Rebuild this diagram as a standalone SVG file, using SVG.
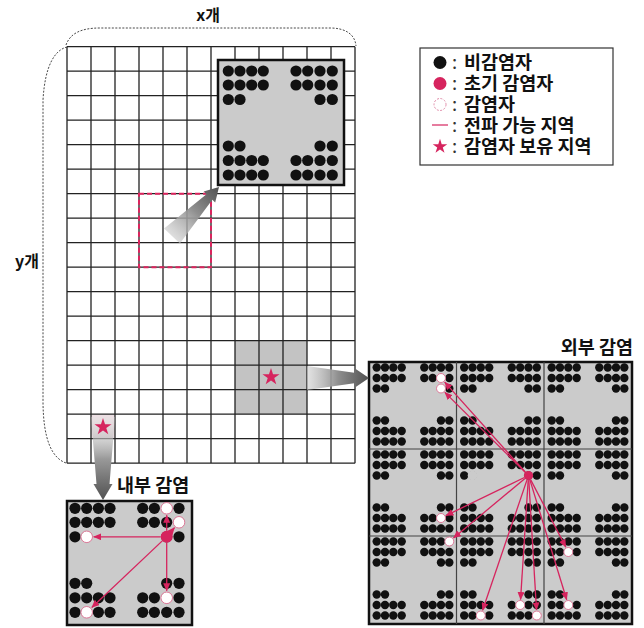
<svg xmlns="http://www.w3.org/2000/svg" xmlns:xlink="http://www.w3.org/1999/xlink" width="644" height="628" viewBox="0 0 644 628">
<style>
.k{fill:#111}
.w{fill:#fff;stroke:#e07a9a;stroke-width:1}
.r{fill:#d6245e}
.ln{stroke:#d6245e;stroke-width:1.3;fill:none;marker-end:url(#ah)}
.t{font-family:"Noto Sans CJK KR","Noto Sans",sans-serif;font-weight:bold;fill:#111}
.lg{font-size:18.5px}
.cl{font-weight:normal;fill:#333}
.box{fill:#cbcbcb;stroke:#111;stroke-width:2.5}
.brace{fill:none;stroke:#333;stroke-width:0.9;stroke-dasharray:2 1.5}
</style>
<defs>
<marker id="ah" markerWidth="8" markerHeight="7" refX="7.5" refY="3.5" orient="auto" markerUnits="userSpaceOnUse"><path d="M0,0 L8,3.5 L0,7 Z" fill="#d6245e"/></marker>
<path id="star" d="M0,-9 L2.02,-2.78 L8.56,-2.78 L3.27,1.06 L5.29,7.28 L0,3.44 L-5.29,7.28 L-3.27,1.06 L-8.56,-2.78 L-2.02,-2.78 Z" fill="#d6245e"/>
<linearGradient id="g1" gradientUnits="userSpaceOnUse" x1="172" y1="236" x2="219" y2="187"><stop offset="0" stop-color="#c8c8c8" stop-opacity="0.6"/><stop offset="0.5" stop-color="#8f8f8f"/><stop offset="1" stop-color="#505050"/></linearGradient>
<linearGradient id="g2" gradientUnits="userSpaceOnUse" x1="307" y1="378" x2="369" y2="378"><stop offset="0" stop-color="#d0d0d0" stop-opacity="0.6"/><stop offset="0.5" stop-color="#8f8f8f"/><stop offset="1" stop-color="#505050"/></linearGradient>
<linearGradient id="g3" gradientUnits="userSpaceOnUse" x1="103" y1="418" x2="103" y2="500"><stop offset="0" stop-color="#e0e0e0" stop-opacity="0.3"/><stop offset="0.5" stop-color="#999"/><stop offset="1" stop-color="#505050"/></linearGradient>
<g id="lp" class="k">
<circle cx="10.3" cy="11" r="5.6"/><circle cx="22" cy="11" r="5.6"/><circle cx="33.7" cy="11" r="5.6"/><circle cx="45.3" cy="11" r="5.6"/><circle cx="78" cy="11" r="5.6"/><circle cx="89.7" cy="11" r="5.6"/><circle cx="102" cy="11" r="5.6"/><circle cx="114.3" cy="11" r="5.6"/>
<circle cx="10.3" cy="25" r="5.6"/><circle cx="22" cy="25" r="5.6"/><circle cx="33.7" cy="25" r="5.6"/><circle cx="45.3" cy="25" r="5.6"/><circle cx="78" cy="25" r="5.6"/><circle cx="89.7" cy="25" r="5.6"/><circle cx="102" cy="25" r="5.6"/><circle cx="114.3" cy="25" r="5.6"/>
<circle cx="10.3" cy="39.5" r="5.6"/><circle cx="22" cy="39.5" r="5.6"/><circle cx="102" cy="39.5" r="5.6"/><circle cx="114.3" cy="39.5" r="5.6"/>
<circle cx="10.3" cy="86" r="5.6"/><circle cx="22" cy="86" r="5.6"/><circle cx="102" cy="86" r="5.6"/><circle cx="114.3" cy="86" r="5.6"/>
<circle cx="10.3" cy="100.5" r="5.6"/><circle cx="22" cy="100.5" r="5.6"/><circle cx="33.7" cy="100.5" r="5.6"/><circle cx="45.3" cy="100.5" r="5.6"/><circle cx="78" cy="100.5" r="5.6"/><circle cx="89.7" cy="100.5" r="5.6"/><circle cx="102" cy="100.5" r="5.6"/><circle cx="114.3" cy="100.5" r="5.6"/>
<circle cx="10.3" cy="115" r="5.6"/><circle cx="22" cy="115" r="5.6"/><circle cx="33.7" cy="115" r="5.6"/><circle cx="45.3" cy="115" r="5.6"/><circle cx="78" cy="115" r="5.6"/><circle cx="89.7" cy="115" r="5.6"/><circle cx="102" cy="115" r="5.6"/><circle cx="114.3" cy="115" r="5.6"/>
</g>
<g id="sp" class="k">
<circle cx="7.7" cy="5.5" r="4.2"/><circle cx="16" cy="5.5" r="4.2"/><circle cx="24.3" cy="5.5" r="4.2"/><circle cx="32.7" cy="5.5" r="4.2"/><circle cx="55.3" cy="5.5" r="4.2"/><circle cx="63.7" cy="5.5" r="4.2"/><circle cx="72" cy="5.5" r="4.2"/><circle cx="80.3" cy="5.5" r="4.2"/>
<circle cx="7.7" cy="16" r="4.2"/><circle cx="16" cy="16" r="4.2"/><circle cx="24.3" cy="16" r="4.2"/><circle cx="32.7" cy="16" r="4.2"/><circle cx="55.3" cy="16" r="4.2"/><circle cx="63.7" cy="16" r="4.2"/><circle cx="72" cy="16" r="4.2"/><circle cx="80.3" cy="16" r="4.2"/>
<circle cx="7.7" cy="26.5" r="4.2"/><circle cx="16" cy="26.5" r="4.2"/><circle cx="72" cy="26.5" r="4.2"/><circle cx="80.3" cy="26.5" r="4.2"/>
<circle cx="7.7" cy="58.5" r="4.2"/><circle cx="16" cy="58.5" r="4.2"/><circle cx="72" cy="58.5" r="4.2"/><circle cx="80.3" cy="58.5" r="4.2"/>
<circle cx="7.7" cy="69" r="4.2"/><circle cx="16" cy="69" r="4.2"/><circle cx="24.3" cy="69" r="4.2"/><circle cx="32.7" cy="69" r="4.2"/><circle cx="55.3" cy="69" r="4.2"/><circle cx="63.7" cy="69" r="4.2"/><circle cx="72" cy="69" r="4.2"/><circle cx="80.3" cy="69" r="4.2"/>
<circle cx="7.7" cy="79.5" r="4.2"/><circle cx="16" cy="79.5" r="4.2"/><circle cx="24.3" cy="79.5" r="4.2"/><circle cx="32.7" cy="79.5" r="4.2"/><circle cx="55.3" cy="79.5" r="4.2"/><circle cx="63.7" cy="79.5" r="4.2"/><circle cx="72" cy="79.5" r="4.2"/><circle cx="80.3" cy="79.5" r="4.2"/>
</g>
</defs>
<rect width="644" height="628" fill="#fff"/>
<g id="grid">
<rect x="235" y="340.7" width="72" height="73.5" fill="#b8b8b8" opacity="0.85"/>
<rect x="91" y="414.2" width="24" height="24.5" fill="#ecdfe3"/>
<path d="M67 46.7V463.2M91 46.7V463.2M115 46.7V463.2M139 46.7V463.2M163 46.7V463.2M187 46.7V463.2M211 46.7V463.2M235 46.7V463.2M259 46.7V463.2M283 46.7V463.2M307 46.7V463.2M331 46.7V463.2M355 46.7V463.2M67 46.7H355M67 71.2H355M67 95.7H355M67 120.2H355M67 144.7H355M67 169.2H355M67 193.7H355M67 218.2H355M67 242.7H355M67 267.2H355M67 291.7H355M67 316.2H355M67 340.7H355M67 365.2H355M67 389.7H355M67 414.2H355M67 438.7H355M67 463.2H355" stroke="#222" stroke-width="1.3" fill="none"/>
<rect x="139" y="193.7" width="72" height="73.5" fill="none" stroke="#dc245e" stroke-width="2" stroke-dasharray="5 3"/>
</g>
<g id="braces">
<path class="brace" d="M66,45 C70,34 80,28 100,28 L330,28 C345,28 355,34 356,46"/>
<path class="brace" d="M67,47 C55,50 45,65 43,100 L43,400 C43,440 52,458 66,463"/>
<text class="t" x="208" y="21" font-size="16" text-anchor="middle">x개</text>
<text class="t" x="15" y="267" font-size="16">y개</text>
</g>
<g id="inset-top">
<rect class="box" x="218" y="60" width="126" height="125"/>
<use xlink:href="#lp" href="#lp" transform="translate(218,60)"/>
</g>
<g id="inset-internal">
<text class="t" x="117" y="492" font-size="18.5">내부 감염</text>
<rect class="box" x="67" y="501" width="125" height="124"/>
<use xlink:href="#lp" href="#lp" transform="translate(64.7,497.3)"/>
<circle class="w" cx="166.7" cy="508.3" r="5.8"/>
<circle class="w" cx="179" cy="522.3" r="5.8"/>
<circle class="w" cx="86.7" cy="536.8" r="5.8"/>
<circle class="w" cx="86.7" cy="612.3" r="5.8"/>
<circle class="w" cx="166.7" cy="597.8" r="5.8"/>
<circle class="r" cx="166.7" cy="536.8" r="6"/>
</g>
<g id="inset-external">
<text class="t" x="633" y="354" font-size="18.5" text-anchor="end">외부 감염</text>
<rect class="box" x="369" y="362" width="263" height="262"/>
<use xlink:href="#sp" href="#sp" transform="translate(369,362)"/>
<use xlink:href="#sp" href="#sp" transform="translate(456.5,362)"/>
<use xlink:href="#sp" href="#sp" transform="translate(544,362)"/>
<use xlink:href="#sp" href="#sp" transform="translate(369,449)"/>
<use xlink:href="#sp" href="#sp" transform="translate(456.5,449)"/>
<use xlink:href="#sp" href="#sp" transform="translate(544,449)"/>
<use xlink:href="#sp" href="#sp" transform="translate(369,536)"/>
<use xlink:href="#sp" href="#sp" transform="translate(456.5,536)"/>
<use xlink:href="#sp" href="#sp" transform="translate(544,536)"/>
<circle cx="472.5" cy="475.5" r="4.8" fill="#cbcbcb"/>
<path d="M456.5 362V624M544 362V624M369 449H632M369 536H632" stroke="#444" stroke-width="1.2" fill="none"/>
<circle class="w" cx="441" cy="378" r="4.5"/>
<circle class="w" cx="441" cy="388.5" r="4.5"/>
<circle class="w" cx="441" cy="518" r="4.5"/>
<circle class="w" cx="449.3" cy="541.5" r="4.5"/>
<circle class="w" cx="480.8" cy="615.5" r="4.5"/>
<circle class="w" cx="520.2" cy="605" r="4.5"/>
<circle class="w" cx="536.8" cy="615.5" r="4.5"/>
<circle class="w" cx="568.3" cy="552" r="4.5"/>
<circle class="w" cx="568.3" cy="605" r="4.5"/>
<circle class="r" cx="528.5" cy="475.5" r="4.6"/>
</g>
<g id="legend">
<rect x="420" y="48" width="193" height="117" fill="#fff" stroke="#333" stroke-width="1.2"/>
<circle cx="440" cy="62.5" r="6.5" fill="#111"/>
<circle cx="440" cy="83.5" r="6.5" fill="#d6245e"/>
<circle cx="440" cy="104.5" r="6" fill="#fff" stroke="#e08aa8" stroke-width="1" stroke-dasharray="2 1.5"/>
<line x1="432" y1="125" x2="448" y2="125" stroke="#d6245e" stroke-width="1.2"/>
<use xlink:href="#star" href="#star" transform="translate(440,146.5) scale(0.85)"/>
<text class="t lg" x="452" y="69"><tspan class="cl">:</tspan><tspan x="464">비감염자</tspan></text>
<text class="t lg" x="452" y="90"><tspan class="cl">:</tspan><tspan x="464">초기 감염자</tspan></text>
<text class="t lg" x="452" y="111"><tspan class="cl">:</tspan><tspan x="464">감염자</tspan></text>
<text class="t lg" x="452" y="131.5"><tspan class="cl">:</tspan><tspan x="464">전파 가능 지역</tspan></text>
<text class="t lg" x="452" y="153"><tspan class="cl">:</tspan><tspan x="464">감염자 보유 지역</tspan></text>
</g>
<g id="connectors">
<polygon points="164.1,228.4 206.5,194.2 203.6,191.5 219,187 215.2,202.5 212.3,199.8 179.9,243.6" fill="url(#g1)"/>
<polygon points="307,366 356,373 355,368.5 369,378 355,387.5 356,383 307,390" fill="url(#g2)"/>
<polygon points="91,417 115,417 109.5,484 112.5,484 103,500 93.5,484 96.5,484" fill="url(#g3)"/>
<line class="ln" x1="166.7" y1="530.8" x2="166.7" y2="515.3"/>
<line class="ln" x1="170.6" y1="532.2" x2="174.5" y2="527.6"/>
<line class="ln" x1="160.7" y1="536.8" x2="93.7" y2="536.8"/>
<line class="ln" x1="162.3" y1="540.9" x2="91.8" y2="607.5"/>
<line class="ln" x1="166.7" y1="542.8" x2="166.7" y2="590.8"/>
<line class="ln" x1="525.4" y1="472.1" x2="444.7" y2="382.1"/>
<line class="ln" x1="525.2" y1="472.3" x2="444.9" y2="392.4"/>
<line class="ln" x1="524.4" y1="477.5" x2="445.9" y2="515.6"/>
<line class="ln" x1="525" y1="478.4" x2="453.5" y2="538"/>
<line class="ln" x1="527" y1="479.9" x2="482.6" y2="610.3"/>
<line class="ln" x1="528.2" y1="480.1" x2="520.55" y2="599.5"/>
<line class="ln" x1="528.8" y1="480.1" x2="536.5" y2="610"/>
<line class="ln" x1="530.6" y1="479.6" x2="565.8" y2="547.1"/>
<line class="ln" x1="529.9" y1="479.9" x2="566.7" y2="599.7"/>
</g>
<g id="stars">
<use xlink:href="#star" href="#star" transform="translate(271,377)"/>
<use xlink:href="#star" href="#star" transform="translate(103,427)"/>
</g>
</svg>
